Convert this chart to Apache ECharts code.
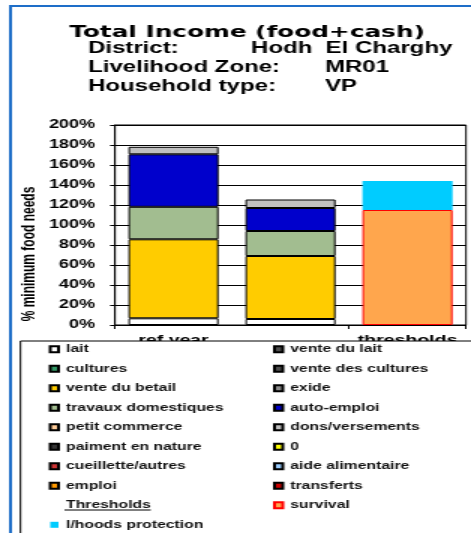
<!DOCTYPE html>
<html>
<head>
<meta charset="utf-8">
<script src="https://cdn.jsdelivr.net/npm/echarts@6/dist/echarts.min.js"></script>
<style>
  html, body { margin: 0; padding: 0; background: #fff; overflow: hidden; }
  /* the source picture is stretched sideways, so the chart is drawn narrow and widened */
  #chart { width: 314px; height: 533px; transform: scaleX(1.5); transform-origin: 0 0; }
</style>
</head>
<body>
<div id="chart"></div>
<script>
// horizontal stretch of the whole picture
const S = 1.5
const X = v => v / S

const categories = ['ref year', 'curr year', 'thresholds']

// % of minimum food needs, bottom to top
const lait = [6.7, 6, null]
const venteDuBetail = [79, 63, null]
const travauxDomestiques = [32.5, 25, null]
const autoEmploi = [52.5, 23, null]
const donsVersements = [7.5, 8.5, null]
const survival = [null, null, 115]
const lhoodsProtection = [null, null, 29]
const noData = [null, null, null]

const yMin = 0
const yMax = 200
const yStep = 20

const seriesData = {
  'lait': lait,
  'vente du betail': venteDuBetail,
  'travaux domestiques': travauxDomestiques,
  'auto-emploi': autoEmploi,
  'dons/versements': donsVersements,
  'survival': survival,
  'l/hoods protection': lhoodsProtection,
}

// stacking order (same as the legend read row by row)
const seriesNames = [
  'lait', 'vente du lait', 'cultures', 'vente des cultures', 'vente du betail', 'exide',
  'travaux domestiques', 'auto-emploi', 'petit commerce', 'dons/versements',
  'paiment en nature', '0', 'cueillette/autres', 'aide alimentaire', 'emploi', 'transferts',
  'Thresholds', 'survival', 'l/hoods protection',
]

const legendLeft = ['lait', 'cultures', 'vente du betail', 'travaux domestiques', 'petit commerce',
  'paiment en nature', 'cueillette/autres', 'emploi', 'Thresholds', 'l/hoods protection']
const legendRight = ['vente du lait', 'vente des cultures', 'exide', 'auto-emploi', 'dons/versements',
  '0', 'aide alimentaire', 'transferts', 'survival']

const colors = {
  'lait': '#ffffff',
  'vente du lait': '#4d4d4d',
  'cultures': '#339966',
  'vente des cultures': '#4d4d4d',
  'vente du betail': '#ffcc00',
  'exide': '#8c8c8c',
  'travaux domestiques': '#a2bd90',
  'auto-emploi': '#0000cc',
  'petit commerce': '#ffcc99',
  'dons/versements': '#c0c0c0',
  'paiment en nature': '#333333',
  '0': '#ffff00',
  'cueillette/autres': '#cc3333',
  'aide alimentaire': '#99ccff',
  'emploi': '#ff9900',
  'transferts': '#cc0000',
  'Thresholds': 'transparent',
  'survival': '#ffa64d',
  'l/hoods protection': '#00ccff',
}

function borderFor(name) {
  if (name === 'survival') return { borderColor: '#ff0000', borderWidth: 1 }
  if (name === 'l/hoods protection' || name === 'Thresholds') return { borderWidth: 0 }
  return { borderColor: '#000', borderWidth: 1 }
}

const series = seriesNames.map(name => ({
  name,
  type: 'bar',
  stack: 'total',
  barWidth: '77%',
  data: seriesData[name] || noData,
  itemStyle: { color: colors[name], ...borderFor(name) },
  emphasis: { disabled: true },
}))

const legendText = {
  fontFamily: 'Liberation Sans, Arial, sans-serif',
  fontWeight: 'bold',
  fontSize: 10.5,
  lineHeight: 14,
  color: '#111',
}

function makeLegend(names, left) {
  return {
    orient: 'vertical',
    left,
    top: 342.3,
    padding: 0,
    itemGap: 5.5,
    itemWidth: 5.5,
    itemHeight: 6,
    selectedMode: false,
    z: 200,
    textStyle: legendText,
    data: names.map(n => (n === 'Thresholds' ? { name: n, icon: 'none' } : { name: n, icon: 'rect' })),
  }
}

const headFont = 'bold 16px "Liberation Sans", Arial, sans-serif'

const option = {
  animation: false,
  backgroundColor: '#fff',
  grid: {
    left: X(115),
    right: 314 - X(466),
    top: 125,
    bottom: 208,
    show: true,
    backgroundColor: '#fff',
    borderColor: '#000',
    borderWidth: 1,
  },
  xAxis: {
    type: 'category',
    data: categories,
    axisLine: { lineStyle: { color: '#000', width: 1 } },
    axisTick: { show: true, length: 4, lineStyle: { color: '#000' } },
    axisLabel: {
      color: '#000',
      fontFamily: 'Liberation Sans, Arial, sans-serif',
      fontWeight: 'bold',
      fontSize: 13,
      margin: 9,
    },
  },
  yAxis: {
    type: 'value',
    min: yMin,
    max: yMax,
    interval: yStep,
    axisLine: { show: true, lineStyle: { color: '#000', width: 1 } },
    axisTick: { show: true, length: 3.3, lineStyle: { color: '#000' } },
    splitLine: { lineStyle: { color: '#000', width: 1 } },
    axisLabel: {
      formatter: '{value}%',
      color: '#000',
      fontFamily: 'Liberation Sans, Arial, sans-serif',
      fontWeight: 'bold',
      fontSize: 12,
      margin: X(20),
    },
  },
  legend: [makeLegend(legendLeft, 32.5), makeLegend(legendRight, 182)],
  series,
  graphic: [
    // blue frame of the sheet
    {
      type: 'rect', z: 300,
      shape: { x: X(10.5), y: 6, width: 400, height: 600 },
      style: { fill: 'none', stroke: '#1e6ec8', lineWidth: 2 },
    },
    // legend box, drawn over the category labels
    {
      type: 'rect', z: 100,
      shape: { x: X(20.5), y: 341, width: 400, height: 300 },
      style: { fill: '#fff', stroke: '#000', lineWidth: 1 },
    },
    {
      type: 'line', z: 250,
      shape: { x1: 43, y1: 510, x2: 100.5, y2: 510 },
      style: { stroke: '#000', lineWidth: 1 },
    },
    {
      type: 'text', z: 250, x: X(247), y: 33,
      style: {
        text: 'Total Income (food+cash)',
        font: 'bold 16.5px "DejaVu Sans", sans-serif',
        fill: '#000', align: 'center', verticalAlign: 'middle',
      },
    },
    { type: 'text', z: 250, x: X(88), y: 49, style: { text: 'District:', font: headFont, fill: '#000', verticalAlign: 'middle' } },
    { type: 'text', z: 250, x: X(251), y: 49, style: { text: 'Hodh  El Charghy', font: headFont, fill: '#000', verticalAlign: 'middle' } },
    { type: 'text', z: 250, x: X(88), y: 67.5, style: { text: 'Livelihood Zone:', font: headFont, fill: '#000', verticalAlign: 'middle' } },
    { type: 'text', z: 250, x: X(325), y: 67.5, style: { text: 'MR01', font: headFont, fill: '#000', verticalAlign: 'middle' } },
    { type: 'text', z: 250, x: X(88), y: 86.5, style: { text: 'Household type:', font: headFont, fill: '#000', verticalAlign: 'middle' } },
    { type: 'text', z: 250, x: X(325), y: 86.5, style: { text: 'VP', font: headFont, fill: '#000', verticalAlign: 'middle' } },
    // y axis title
    {
      type: 'text', z: 250, x: X(30), y: 254, rotation: Math.PI / 2,
      style: {
        text: '% minimum food needs',
        font: 'bold 12px "Liberation Sans", Arial, sans-serif',
        fill: '#000', align: 'center', verticalAlign: 'middle',
      },
    },
  ],
}

const chart = echarts.init(document.getElementById('chart'), null, { renderer: 'canvas' })
chart.setOption(option)
</script>
</body>
</html>
